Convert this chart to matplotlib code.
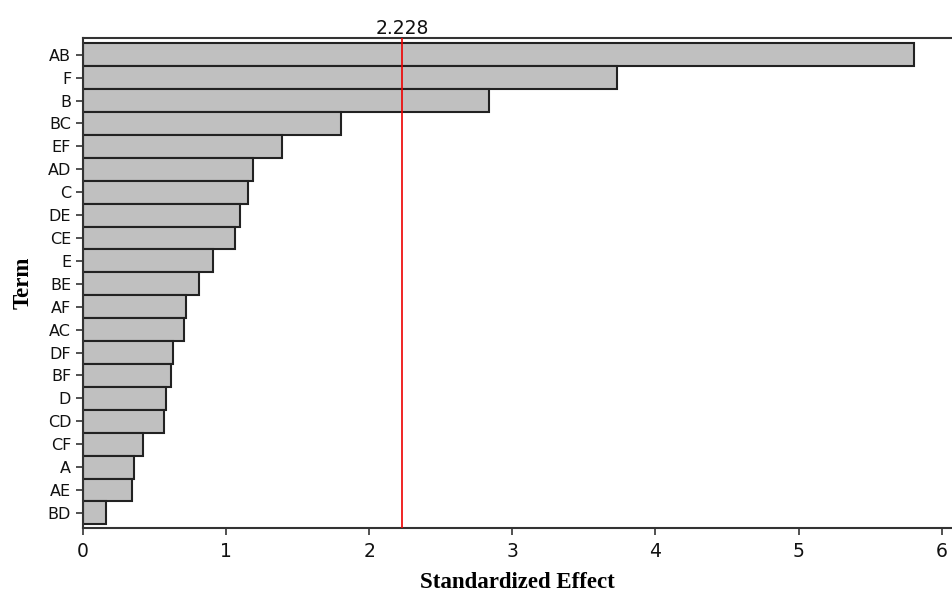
import matplotlib
matplotlib.use("Agg")
import matplotlib.pyplot as plt

terms = ["AB", "F", "B", "BC", "EF", "AD", "C", "DE", "CE", "E",
         "BE", "AF", "AC", "DF", "BF", "D", "CD", "CF", "A", "AE", "BD"]
effects = [5.81, 3.73, 2.835, 1.80, 1.393, 1.19, 1.15, 1.10, 1.062, 0.908,
           0.808, 0.72, 0.706, 0.631, 0.617, 0.578, 0.568, 0.417, 0.354, 0.342, 0.163]
critical = 2.228
xticks = [0, 1, 2, 3, 4, 5, 6]

W, H = 952, 594
fig = plt.figure(figsize=(W / 100, H / 100), dpi=100)
ax = fig.add_axes([83 / W, (H - 528) / H, (W - 83) / W, (528 - 38) / H])

pos = list(range(len(terms)))
ax.barh(pos, effects, height=1.0, color="#c0c0c0", edgecolor="#222222",
        linewidth=1.5, zorder=2)
ax.axvline(critical, color="#ee0000", linewidth=1.2, zorder=3)

n = len(terms)
ax.set_ylim(n - 1 + 0.66, -0.73)
ax.set_xlim(0, (W - 83) / 143.1)
ax.set_yticks(pos)
ax.set_yticklabels(terms, fontsize=11.5, family="DejaVu Sans", color="#111111")
ax.set_xticks(xticks)
ax.set_xticklabels([str(t) for t in xticks], fontsize=13.5, family="DejaVu Sans",
                   color="#111111")
ax.tick_params(axis="y", direction="out", length=5, width=1.2, pad=3.5,
               color="#333333")
ax.tick_params(axis="x", direction="out", length=5, width=1.2, pad=5,
               color="#333333")

for s in ["left", "top", "bottom"]:
    ax.spines[s].set_color("#333333")
    ax.spines[s].set_linewidth(1.5)
ax.spines["right"].set_visible(False)

ax.text(critical, 1.0, "2.228", transform=ax.get_xaxis_transform(),
        ha="center", va="bottom", fontsize=13.5, family="DejaVu Sans",
        color="#111111")

ax.set_xlabel("Standardized Effect", fontsize=16.5, fontweight="bold",
              family="Liberation Serif", labelpad=8)
ax.set_ylabel("Term", fontsize=16.5, fontweight="bold",
              family="Liberation Serif", labelpad=10)

fig.savefig("out.png", dpi=100)
